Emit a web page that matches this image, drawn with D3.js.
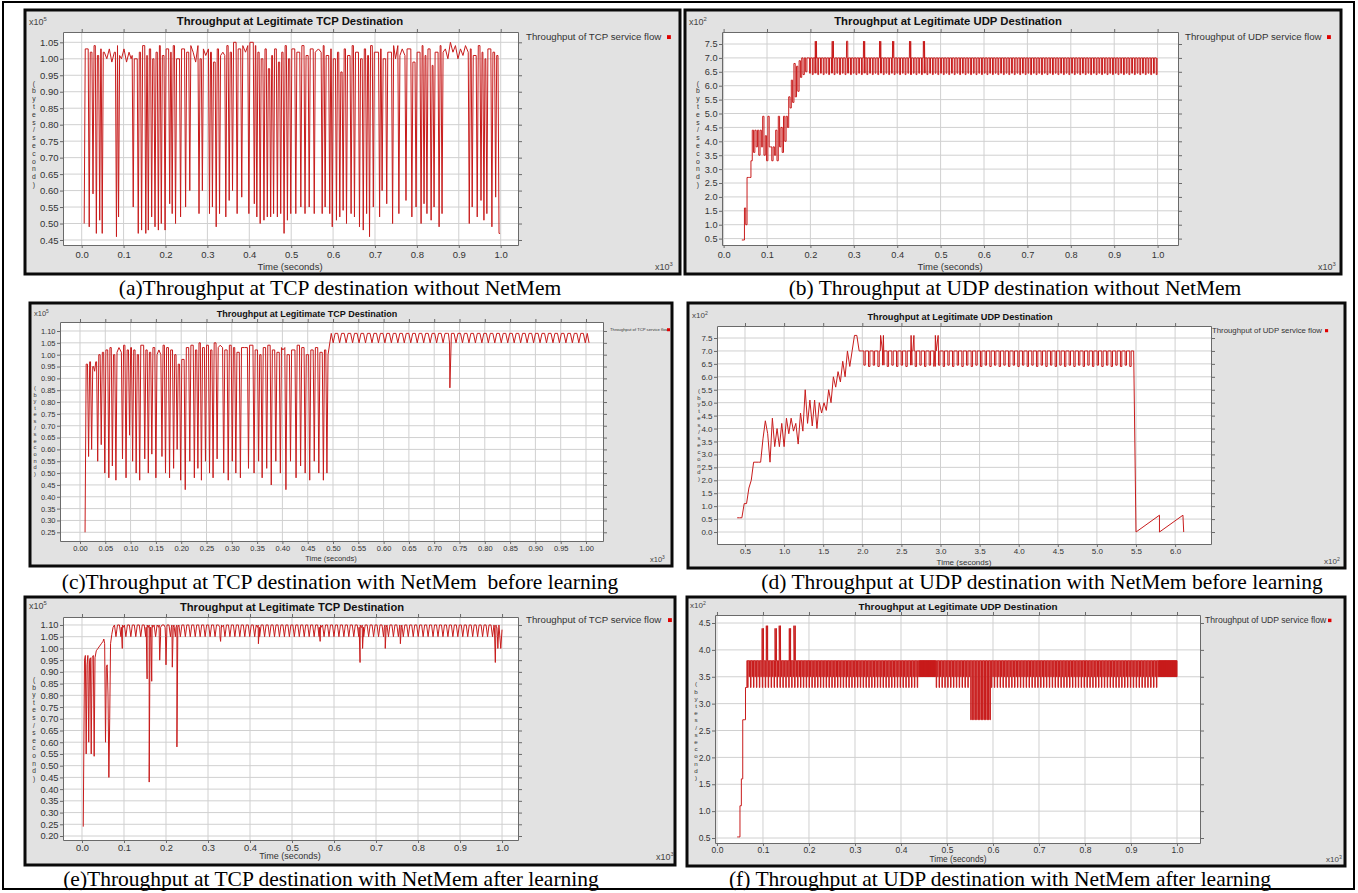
<!DOCTYPE html>
<html>
<head>
<meta charset="utf-8">
<script src="https://cdn.jsdelivr.net/npm/d3@7"></script>
<style>
  body { margin: 0; background: #fff; }
  svg { display: block; }
</style>
</head>
<body>
<svg id="fig" width="1358" height="893"></svg>
<script>
// ---------- tick labels ----------
const xTicksTenths = [0.0, 0.1, 0.2, 0.3, 0.4, 0.5, 0.6, 0.7, 0.8, 0.9, 1.0]
const xTicksTwentieths = [0.00, 0.05, 0.10, 0.15, 0.20, 0.25, 0.30, 0.35, 0.40, 0.45, 0.50,
  0.55, 0.60, 0.65, 0.70, 0.75, 0.80, 0.85, 0.90, 0.95, 1.00]
const xTicksD = [0.5, 1.0, 1.5, 2.0, 2.5, 3.0, 3.5, 4.0, 4.5, 5.0, 5.5, 6.0]
const yTicksA = [0.45, 0.50, 0.55, 0.60, 0.65, 0.70, 0.75, 0.80, 0.85, 0.90, 0.95, 1.00, 1.05]
const yTicksB = [0.5, 1.0, 1.5, 2.0, 2.5, 3.0, 3.5, 4.0, 4.5, 5.0, 5.5, 6.0, 6.5, 7.0, 7.5]
const yTicksC = [0.25, 0.30, 0.35, 0.40, 0.45, 0.50, 0.55, 0.60, 0.65, 0.70, 0.75, 0.80, 0.85,
  0.90, 0.95, 1.00, 1.05, 1.10]
const yTicksD = [0.0, 0.5, 1.0, 1.5, 2.0, 2.5, 3.0, 3.5, 4.0, 4.5, 5.0, 5.5, 6.0, 6.5, 7.0, 7.5]
const yTicksE = [0.20, 0.25, 0.30, 0.35, 0.40, 0.45, 0.50, 0.55, 0.60, 0.65, 0.70, 0.75, 0.80,
  0.85, 0.90, 0.95, 1.00, 1.05, 1.10]
const yTicksF = [0.5, 1.0, 1.5, 2.0, 2.5, 3.0, 3.5, 4.0, 4.5]

// ---------- (a) TCP without NetMem : [time x10^3 s, dip low, top after] x10^5 B/s ----------
const tcpA_dips = [
  [0.006, 0.50, 1.03], [0.018, 0.49, 1.02], [0.027, 0.59, 1.04], [0.035, 0.47, 1.01], [0.043, 0.51, 1.03], [0.049, 0.47, 1.02],
  [0.083, 0.46, 1.04], [0.088, 0.52, 1.01],
  [0.123, 0.55, 1.00], [0.135, 0.47, 1.02], [0.143, 0.48, 1.04], [0.153, 0.47, 1.01], [0.159, 0.48, 1.03], [0.167, 0.52, 1.00],
  [0.175, 0.49, 1.02], [0.183, 0.48, 1.04], [0.190, 0.50, 1.01], [0.199, 0.48, 1.03],
  [0.210, 0.56, 1.02], [0.216, 0.53, 1.04], [0.224, 0.50, 1.00], [0.236, 0.52, 1.03], [0.248, 0.55, 1.02], [0.258, 0.60, 1.04],
  [0.280, 0.53, 1.00], [0.288, 0.60, 1.03], [0.305, 0.53, 1.02], [0.312, 0.55, 0.99], [0.321, 0.49, 1.03], [0.329, 0.53, 1.01],
  [0.344, 0.52, 1.04], [0.352, 0.57, 1.02], [0.360, 0.60, 1.05], [0.371, 0.53, 1.03], [0.382, 0.58, 1.04], [0.399, 0.53, 1.05],
  [0.412, 0.56, 1.04], [0.418, 0.52, 1.02], [0.426, 0.50, 1.00], [0.435, 0.51, 1.03], [0.443, 0.52, 0.97], [0.451, 0.52, 1.01],
  [0.458, 0.53, 1.03], [0.467, 0.52, 0.99], [0.475, 0.53, 1.02], [0.483, 0.47, 1.04], [0.491, 0.51, 1.00], [0.499, 0.53, 1.03],
  [0.511, 0.53, 1.02], [0.523, 0.55, 1.04], [0.533, 0.53, 1.01], [0.543, 0.55, 1.03], [0.555, 0.53, 1.02], [0.574, 0.53, 1.04],
  [0.581, 0.55, 1.01], [0.592, 0.53, 1.03], [0.598, 0.49, 1.00],
  [0.608, 0.51, 1.02], [0.616, 0.52, 0.96], [0.624, 0.54, 1.03], [0.632, 0.50, 1.01], [0.643, 0.53, 1.04], [0.651, 0.52, 1.02],
  [0.663, 0.49, 1.00], [0.672, 0.48, 1.03], [0.680, 0.53, 1.01], [0.687, 0.46, 1.04], [0.696, 0.55, 1.02],
  [0.711, 0.52, 1.03], [0.717, 0.60, 1.00], [0.728, 0.56, 1.02], [0.742, 0.50, 1.04], [0.757, 0.53, 1.01], [0.774, 0.57, 1.03],
  [0.788, 0.52, 0.99], [0.798, 0.55, 1.02],
  [0.810, 0.50, 1.04], [0.817, 0.56, 1.01], [0.824, 0.53, 1.03], [0.834, 0.51, 0.98], [0.841, 0.55, 1.02], [0.853, 0.49, 1.04],
  [0.860, 0.53, 1.02],
  [0.925, 0.50, 1.03], [0.932, 0.55, 1.01], [0.944, 0.52, 1.04], [0.953, 0.57, 1.02], [0.960, 0.51, 1.00], [0.967, 0.53, 1.03],
  [0.979, 0.49, 1.02], [0.988, 0.58, 1.01], [0.996, 0.47, 0.47]
]
const tcpA_plateau = [
  [0.054, 1.02], [0.060, 1.00], [0.066, 1.03], [0.072, 0.99], [0.078, 1.02], [0.095, 1.00], [0.101, 1.03], [0.107, 0.99],
  [0.113, 1.02], [0.118, 1.00], [0.266, 1.02], [0.272, 0.99], [0.296, 1.01], [0.337, 1.02], [0.391, 1.02], [0.565, 1.03],
  [0.735, 1.02], [0.749, 1.00], [0.765, 1.03], [0.868, 1.03], [0.874, 1.00], [0.880, 1.05], [0.886, 1.02], [0.892, 1.04],
  [0.898, 1.00], [0.904, 1.03], [0.910, 1.01], [0.916, 1.04]
]

// ---------- (b) UDP without NetMem : x10^2 B/s ----------
const udpB_earlyStart = 0.042
const udpB_earlyStep = 0.003
const udpB_early = [0.45, 0.45, 1.6, 1.0, 2.7, 2.7, 2.7, 3.3, 4.4, 3.6, 4.4, 3.8, 4.4, 3.5, 4.4, 3.8, 4.9, 3.5, 4.2, 3.3,
  4.9, 3.8, 3.8, 3.3, 3.8, 3.5, 4.4, 3.3, 4.9, 3.8, 4.5, 3.6, 4.9, 4.0, 4.9, 4.5, 5.6, 5.2, 6.2, 5.4,
  6.8, 5.6, 6.7, 5.8, 6.9, 6.3, 7.0, 6.4, 7.0, 6.5, 7.0]
// [from, to, teeth, top, low A, low B]
const udpB_combs = [[0.195, 1.0, 128, 7.0, 6.45, 6.40]]
const udpB_spikes = [[0.211, 7.6], [0.250, 7.6], [0.283, 7.6], [0.322, 7.6], [0.359, 7.6], [0.389, 7.6], [0.428, 7.6], [0.460, 7.6]]

// ---------- (c) TCP with NetMem before learning ----------
const tcpC_dips = [
  [0.010, 0.25, 0.96], [0.017, 0.57, 0.97], [0.023, 0.60, 0.95], [0.029, 0.93, 0.97], [0.035, 0.55, 1.00], [0.042, 0.62, 1.01],
  [0.049, 0.50, 1.02], [0.057, 0.48, 1.03], [0.064, 0.53, 1.00], [0.071, 0.47, 1.01], [0.084, 0.56, 1.04], [0.091, 0.48, 1.02],
  [0.098, 0.66, 1.03], [0.104, 0.55, 1.02], [0.111, 0.50, 1.00], [0.118, 0.47, 1.04], [0.128, 0.56, 1.02], [0.135, 0.50, 1.01],
  [0.142, 0.58, 1.03], [0.150, 0.48, 1.00], [0.162, 0.57, 1.04], [0.169, 0.50, 1.03], [0.177, 0.48, 1.02], [0.185, 0.52, 1.00],
  [0.192, 0.60, 0.96], [0.199, 0.47, 0.98], [0.208, 0.43, 1.03], [0.217, 0.55, 1.04], [0.226, 0.48, 1.02], [0.233, 0.52, 1.05],
  [0.240, 0.47, 1.03], [0.248, 0.55, 1.04], [0.256, 0.50, 1.02], [0.263, 0.48, 1.05], [0.271, 0.56, 1.03], [0.284, 0.50, 1.02],
  [0.293, 0.47, 1.04], [0.301, 0.55, 1.03], [0.308, 0.50, 1.01], [0.317, 0.48, 1.03], [0.333, 0.52, 1.04], [0.344, 0.50, 1.02],
  [0.353, 0.55, 1.00], [0.360, 0.48, 1.03], [0.369, 0.52, 1.04], [0.378, 0.45, 1.02], [0.387, 0.55, 1.01], [0.396, 0.50, 1.03],
  [0.407, 0.43, 1.00], [0.416, 0.55, 1.02], [0.427, 0.48, 1.04], [0.436, 0.53, 1.03], [0.445, 0.50, 1.00], [0.454, 0.47, 1.02],
  [0.463, 0.55, 1.03], [0.472, 0.50, 1.01], [0.481, 0.47, 1.02], [0.488, 0.50, 1.00]
]
const tcpC_plateau = [[0.077, 1.03], [0.156, 1.02], [0.277, 1.04], [0.325, 1.03], [0.401, 1.02]]
// [from, to, teeth, top, low]
const tcpC_comb = [0.494, 1.005, 40, 1.09, 1.05]
const tcpC_deep = [[0.731, 0.86]]
const tcpC_end = [[1.006, 1.05]]

// ---------- (d) UDP with NetMem before learning (time x10^2 s) ----------
const udpD_earlyStart = 0.40
const udpD_earlyStep = 0.03
const udpD_early = [0.55, 0.55, 0.55, 1.1, 1.1, 1.7, 2.0, 2.7, 2.7, 2.7, 2.7, 3.6, 4.3, 3.8, 2.7, 4.4, 3.3, 4.0, 3.3, 4.2,
  3.3, 4.4, 3.8, 4.4, 3.9, 4.2, 3.4, 4.6, 3.9, 5.5, 4.2, 5.1, 4.1, 5.1, 4.0, 5.0, 4.6, 5.0, 4.7, 5.5,
  5.0, 6.0, 5.6, 6.2, 5.8, 6.6, 6.0, 7.0, 6.4, 7.0, 7.6, 7.6, 7.0]
const udpD_combs = [[1.99, 5.45, 58, 7.0, 6.45, 6.40]]
const udpD_spikes = [[2.23, 7.6], [2.62, 7.6], [2.93, 7.6]]
const udpD_tail = [[5.45, 7.0], [5.47, 7.0], [5.50, 0.0], [5.80, 0.65], [5.80, 0.0], [6.10, 0.65], [6.11, 0.0]]

// ---------- (e) TCP with NetMem after learning ----------
const tcpE_early = [[0.003, 0.24], [0.006, 0.95], [0.008, 0.97], [0.010, 0.55], [0.012, 0.93], [0.014, 0.97], [0.016, 0.60],
  [0.018, 0.95], [0.020, 0.96], [0.022, 0.55], [0.024, 0.96], [0.027, 0.97], [0.029, 0.54], [0.031, 0.96], [0.034, 0.99],
  [0.038, 1.00], [0.042, 1.01], [0.046, 1.02], [0.050, 1.03], [0.052, 1.04], [0.054, 1.02], [0.056, 0.60], [0.058, 0.92],
  [0.060, 0.93], [0.062, 0.80], [0.064, 0.45], [0.066, 0.70], [0.068, 1.02], [0.071, 1.06], [0.074, 1.09]]
const tcpE_comb = [0.075, 0.995, 78, 1.10, 1.05]
const tcpE_deep = [[0.096, 1.00], [0.155, 0.87], [0.160, 0.43], [0.166, 0.86], [0.185, 0.95], [0.200, 0.93], [0.215, 0.92],
  [0.226, 0.58], [0.330, 1.03], [0.420, 1.02], [0.567, 1.03], [0.662, 0.94], [0.668, 1.00], [0.722, 1.00], [0.758, 1.02],
  [0.984, 0.94], [0.990, 1.00]]
const tcpE_end = [[0.997, 1.00], [1.0, 1.08]]

// ---------- (f) UDP with NetMem after learning ----------
const udpF_earlyStart = 0.044
const udpF_earlyStep = 0.003
const udpF_early = [0.52, 0.52, 1.1, 1.6, 2.7, 2.7, 3.3]
const udpF_combs = [
  [0.065, 0.180, 36, 3.8, 3.3, 3.5],
  [0.180, 0.440, 84, 3.8, 3.3, 3.5],
  [0.440, 0.475, 30, 3.8, 3.5, 3.5],
  [0.475, 0.550, 24, 3.8, 3.3, 3.5],
  [0.550, 0.595, 14, 3.8, 2.7, 2.7],
  [0.595, 0.960, 116, 3.8, 3.3, 3.5],
  [0.960, 1.000, 34, 3.8, 3.5, 3.5]
]
const udpF_spikes = [[0.098, 4.4], [0.107, 4.45], [0.126, 4.4], [0.135, 4.45], [0.157, 4.4], [0.167, 4.45]]

// ---------- series builders ----------
const byTime = (a, b) => a[0] - b[0]

function tcpSeries(dips, extra, hw) {
  const pts = []
  dips.forEach((d, i) => {
    if (i) pts.push([d[0] - hw, dips[i - 1][2]])
    pts.push([d[0], d[1]])
    pts.push([d[0] + hw, d[2]])
  })
  return pts.concat(extra).sort(byTime)
}

function vComb(c) {
  const [from, to, n, hi, lo] = c
  const dt = (to - from) / n
  const pts = []
  for (let k = 0; k < n; k++) {
    const t = from + dt * (k + 0.5)
    pts.push([t - dt * 0.3, hi], [t, lo], [t + dt * 0.3, hi])
  }
  return pts
}

function vDips(list, hi, hw) {
  const pts = []
  list.forEach(d => pts.push([d[0] - hw, hi], [d[0], d[1]], [d[0] + hw, hi]))
  return pts
}

function squareCombs(combs) {
  const pts = []
  combs.forEach(([from, to, n, hi, loA, loB]) => {
    const dt = (to - from) / n
    for (let k = 0; k < n; k++) {
      const t0 = from + k * dt
      const lo = k % 2 ? loB : loA
      pts.push([t0, hi], [t0 + dt * 0.5, hi], [t0 + dt * 0.5, lo], [t0 + dt * 0.8, lo], [t0 + dt * 0.8, hi])
    }
  })
  return pts
}

function stepSeries(start, step, vals) {
  const pts = []
  vals.forEach((v, i) => {
    pts.push([start + i * step, v], [start + (i + 1) * step, v])
  })
  return pts
}

function spikePts(list, base, w) {
  const pts = []
  list.forEach(([t, p]) => pts.push([t, base], [t + w * 0.1, p], [t + w, p], [t + w * 1.1, base]))
  return pts
}

const seriesA = tcpSeries(tcpA_dips, tcpA_plateau, 0.0025)
const seriesB = stepSeries(udpB_earlyStart, udpB_earlyStep, udpB_early)
  .concat(squareCombs(udpB_combs).concat(spikePts(udpB_spikes, 7.0, 0.003)).sort(byTime))
const seriesC = tcpSeries(tcpC_dips, tcpC_plateau, 0.0022)
  .concat(vComb(tcpC_comb).concat(vDips(tcpC_deep, 1.09, 0.003)).sort(byTime))
  .concat(tcpC_end)
const seriesD = udpD_early.map((v, i) => [udpD_earlyStart + i * udpD_earlyStep, v])
  .concat(squareCombs(udpD_combs).concat(spikePts(udpD_spikes, 7.0, 0.04)).sort(byTime))
  .concat(udpD_tail)
const seriesE = tcpE_early
  .concat(vComb(tcpE_comb).concat(vDips(tcpE_deep, 1.09, 0.0022)).sort(byTime))
  .concat(tcpE_end)
const seriesF = stepSeries(udpF_earlyStart, udpF_earlyStep, udpF_early)
  .concat(squareCombs(udpF_combs).concat(spikePts(udpF_spikes, 3.8, 0.003)).sort(byTime))

const tcpLegend = 'Throughput of TCP service flow'
const udpLegend = 'Throughput of UDP service flow'
const chartTitleTcp = 'Throughput at Legitimate TCP Destination'
const chartTitleUdp = 'Throughput at Legitimate UDP Destination'

// layout: frame [x,y,w,h], plot [left,top,right,bottom]; text specs hold positions and sizes
const panels = [
  { id: 'a', frame: [25, 10, 655, 264], plot: [63, 32, 518, 245], xDom: [-0.0446, 1.0413], yDom: [0.4348, 1.0813],
    xTicks: xTicksTenths, yTicks: yTicksA, xFmt: '.1f', yFmt: '.2f', tickFs: 9.5, xPad: 3, series: seriesA,
    title: [chartTitleTcp, 290, 25, 11.3], yExp: ['5', 29, 25, 9], xExp: ['3', 655, 270, 9],
    ylab: [34, 134, 7.8, 6.8], xlab: [290, 270, 9.5], legend: [tcpLegend, 526, 40, 9.7, 667] },
  { id: 'b', frame: [685, 10, 656, 264], plot: [722, 32, 1178, 245], xDom: [-0.0037, 1.047], yDom: [0.27, 7.932],
    xTicks: xTicksTenths, yTicks: yTicksB, xFmt: '.1f', yFmt: '.1f', tickFs: 9.2, xPad: 3, series: seriesB,
    title: [chartTitleUdp, 948, 25, 11.3], yExp: ['2', 689, 25, 9], xExp: ['3', 1318, 270, 9],
    ylab: [698, 134, 7.8, 6.8], xlab: [950, 270, 9.5], legend: [udpLegend, 1185, 40, 9.7, 1327] },
  { id: 'c', frame: [30, 303, 642, 263], plot: [60, 322, 603, 541], xDom: [-0.0395, 1.0336], yDom: [0.2132, 1.138],
    xTicks: xTicksTwentieths, yTicks: yTicksC, xFmt: '.2f', yFmt: '.2f', tickFs: 7.5, xPad: 2, series: seriesC,
    title: [chartTitleTcp, 307, 317, 9], yExp: ['5', 34, 316, 7.5], xExp: ['3', 650, 562, 7.5],
    ylab: [35, 431, 6.6, 5.7], xlab: [331, 561, 7.5], legend: [tcpLegend, 610, 331, 4.2, 667] },
  { id: 'd', frame: [688, 303, 657, 265], plot: [717, 326, 1211, 544], xDom: [0.142, 6.459], yDom: [-0.463, 7.964],
    xTicks: xTicksD, yTicks: yTicksD, xFmt: '.1f', yFmt: '.1f', tickFs: 8, xPad: 1, series: seriesD,
    title: [chartTitleUdp, 960, 320, 9.2], yExp: ['2', 692, 318, 8], xExp: ['2', 1324, 564, 8],
    ylab: [699, 435, 6.8, 5.9], xlab: [964, 565, 8], legend: [udpLegend, 1212, 333, 7.8, 1325] },
  { id: 'e', frame: [25, 597, 650, 268], plot: [63, 617, 518, 840], xDom: [-0.0452, 1.038], yDom: [0.183, 1.134],
    xTicks: xTicksTenths, yTicks: yTicksE, xFmt: '.1f', yFmt: '.2f', tickFs: 9.3, xPad: 1, series: seriesE,
    title: [chartTitleTcp, 292, 611, 11.2], yExp: ['5', 29, 609, 9], xExp: ['3', 656, 860, 9],
    ylab: [34, 729, 7.6, 6.6], xlab: [290, 859, 9], legend: [tcpLegend, 526, 623, 9.7, 668] },
  { id: 'f', frame: [687, 597, 658, 269], plot: [715, 615, 1200, 843], xDom: [-0.0043, 1.05], yDom: [0.407, 4.649],
    xTicks: xTicksTenths, yTicks: yTicksF, xFmt: '.1f', yFmt: '.1f', tickFs: 8.5, xPad: 1, series: seriesF,
    title: [chartTitleUdp, 958, 610, 9.9], yExp: ['2', 690, 608, 8], xExp: ['3', 1326, 862, 8],
    ylab: [696, 731, 7.2, 6.2], xlab: [958, 862, 8.3], legend: [udpLegend, 1205, 623, 8.6, 1328] }
]

const captions = [
  ['(a)Throughput at TCP destination without NetMem', 340, 295],
  ['(b) Throughput at UDP destination without NetMem', 1015, 295],
  ['(c)Throughput at TCP destination with NetMem  before learning', 340, 589],
  ['(d) Throughput at UDP destination with NetMem before learning', 1042, 589],
  ['(e)Throughput at TCP destination with NetMem after learning', 331, 886],
  ['(f) Throughput at UDP destination with NetMem after learning', 1000, 886]
]

// ---------- drawing ----------
const svg = d3.select('#fig')
const sans = 'Liberation Sans, Arial, sans-serif'

svg.append('rect').attr('x', 3).attr('y', 2).attr('width', 1351).attr('height', 887)
  .attr('fill', '#fff').attr('stroke', '#000').attr('stroke-width', 2)

function drawPanel(p) {
  const g = svg.append('g').attr('id', 'panel-' + p.id)
  const [fx, fy, fw, fh] = p.frame
  g.append('rect').attr('x', fx).attr('y', fy).attr('width', fw).attr('height', fh)
    .attr('fill', '#e2e2e2').attr('stroke', '#0a0a0a').attr('stroke-width', 3)

  const [l, t, r, b] = p.plot
  const x = d3.scaleLinear().domain(p.xDom).range([l, r])
  const y = d3.scaleLinear().domain(p.yDom).range([b, t])

  g.append('rect').attr('x', l).attr('y', t).attr('width', r - l).attr('height', b - t).attr('fill', '#fff')

  // grid
  g.append('g').selectAll('line').data(p.xTicks).join('line')
    .attr('x1', d => x(d)).attr('x2', d => x(d)).attr('y1', t).attr('y2', b)
    .attr('stroke', '#d0d0d0').attr('stroke-width', 1)
  g.append('g').selectAll('line').data(p.yTicks).join('line')
    .attr('x1', l).attr('x2', r).attr('y1', d => y(d)).attr('y2', d => y(d))
    .attr('stroke', '#d0d0d0').attr('stroke-width', 1)

  // the trace
  const clipId = 'clip-' + p.id
  g.append('clipPath').attr('id', clipId).append('rect')
    .attr('x', l).attr('y', t).attr('width', r - l).attr('height', b - t)
  g.append('path').datum(p.series)
    .attr('clip-path', 'url(#' + clipId + ')')
    .attr('d', d3.line().x(d => x(d[0])).y(d => y(d[1])))
    .attr('fill', 'none').attr('stroke', '#c81c1c').attr('stroke-width', 1)

  // axes, ticks out on all four sides
  const styleAxis = sel => {
    sel.select('.domain').attr('stroke', '#6a6a6a')
    sel.selectAll('.tick line').attr('stroke', '#6a6a6a')
    sel.selectAll('text').attr('font-family', sans).attr('font-size', p.tickFs).attr('fill', '#333')
  }
  g.append('g').attr('transform', 'translate(0,' + b + ')')
    .call(d3.axisBottom(x).tickValues(p.xTicks).tickFormat(d3.format(p.xFmt)).tickSize(3).tickSizeOuter(0).tickPadding(p.xPad))
    .call(styleAxis)
  g.append('g').attr('transform', 'translate(0,' + t + ')')
    .call(d3.axisTop(x).tickValues(p.xTicks).tickFormat('').tickSize(3).tickSizeOuter(0))
    .call(styleAxis)
  g.append('g').attr('transform', 'translate(' + l + ',0)')
    .call(d3.axisLeft(y).tickValues(p.yTicks).tickFormat(d3.format(p.yFmt)).tickSize(3).tickSizeOuter(0).tickPadding(1.5))
    .call(styleAxis)
  g.append('g').attr('transform', 'translate(' + r + ',0)')
    .call(d3.axisRight(y).tickValues(p.yTicks).tickFormat('').tickSize(4).tickSizeOuter(0))
    .call(styleAxis)

  // title
  const [tt, tx, ty, ts] = p.title
  g.append('text').attr('x', tx).attr('y', ty).attr('text-anchor', 'middle')
    .attr('font-family', sans).attr('font-weight', 'bold').attr('font-size', ts).attr('fill', '#111').text(tt)

  // exponent labels
  const expLabel = ([e, ex, ey, es]) => {
    const el = g.append('text').attr('x', ex).attr('y', ey).attr('font-family', sans)
      .attr('font-size', es).attr('fill', '#444').text('x10')
    el.append('tspan').attr('dy', -es * 0.4).attr('font-size', es * 0.65).text(e)
  }
  expLabel(p.yExp)
  expLabel(p.xExp)

  // stacked y label
  const [yx, ycy, ystep, ysz] = p.ylab
  const chars = '(bytes/second)'.split('')
  g.append('g').selectAll('text').data(chars).join('text')
    .attr('x', yx).attr('y', (d, i) => ycy + (i - (chars.length - 1) / 2) * ystep + ysz * 0.35)
    .attr('text-anchor', 'middle').attr('font-family', sans).attr('font-size', ysz).attr('fill', '#333')
    .text(d => d)

  // x label
  const [lx, ly, ls] = p.xlab
  g.append('text').attr('x', lx).attr('y', ly).attr('text-anchor', 'middle')
    .attr('font-family', sans).attr('font-size', ls).attr('fill', '#333').text('Time (seconds)')

  // legend
  const [lt, lgx, lgy, lgs, sqx] = p.legend
  g.append('text').attr('x', lgx).attr('y', lgy).attr('font-family', sans).attr('font-size', lgs)
    .attr('fill', '#333').text(lt)
  const sq = Math.max(3, lgs * 0.4)
  g.append('rect').attr('x', sqx).attr('y', lgy - lgs * 0.3 - sq / 2).attr('width', sq).attr('height', sq).attr('fill', '#e00000')
}

panels.forEach(drawPanel)

svg.append('g').selectAll('text').data(captions).join('text')
  .attr('x', d => d[1]).attr('y', d => d[2]).attr('text-anchor', 'middle')
  .attr('font-family', 'Liberation Serif, Times New Roman, serif').attr('font-size', 21.5)
  .attr('fill', '#000').style('white-space', 'pre')
  .text(d => d[0])
</script>
</body>
</html>
